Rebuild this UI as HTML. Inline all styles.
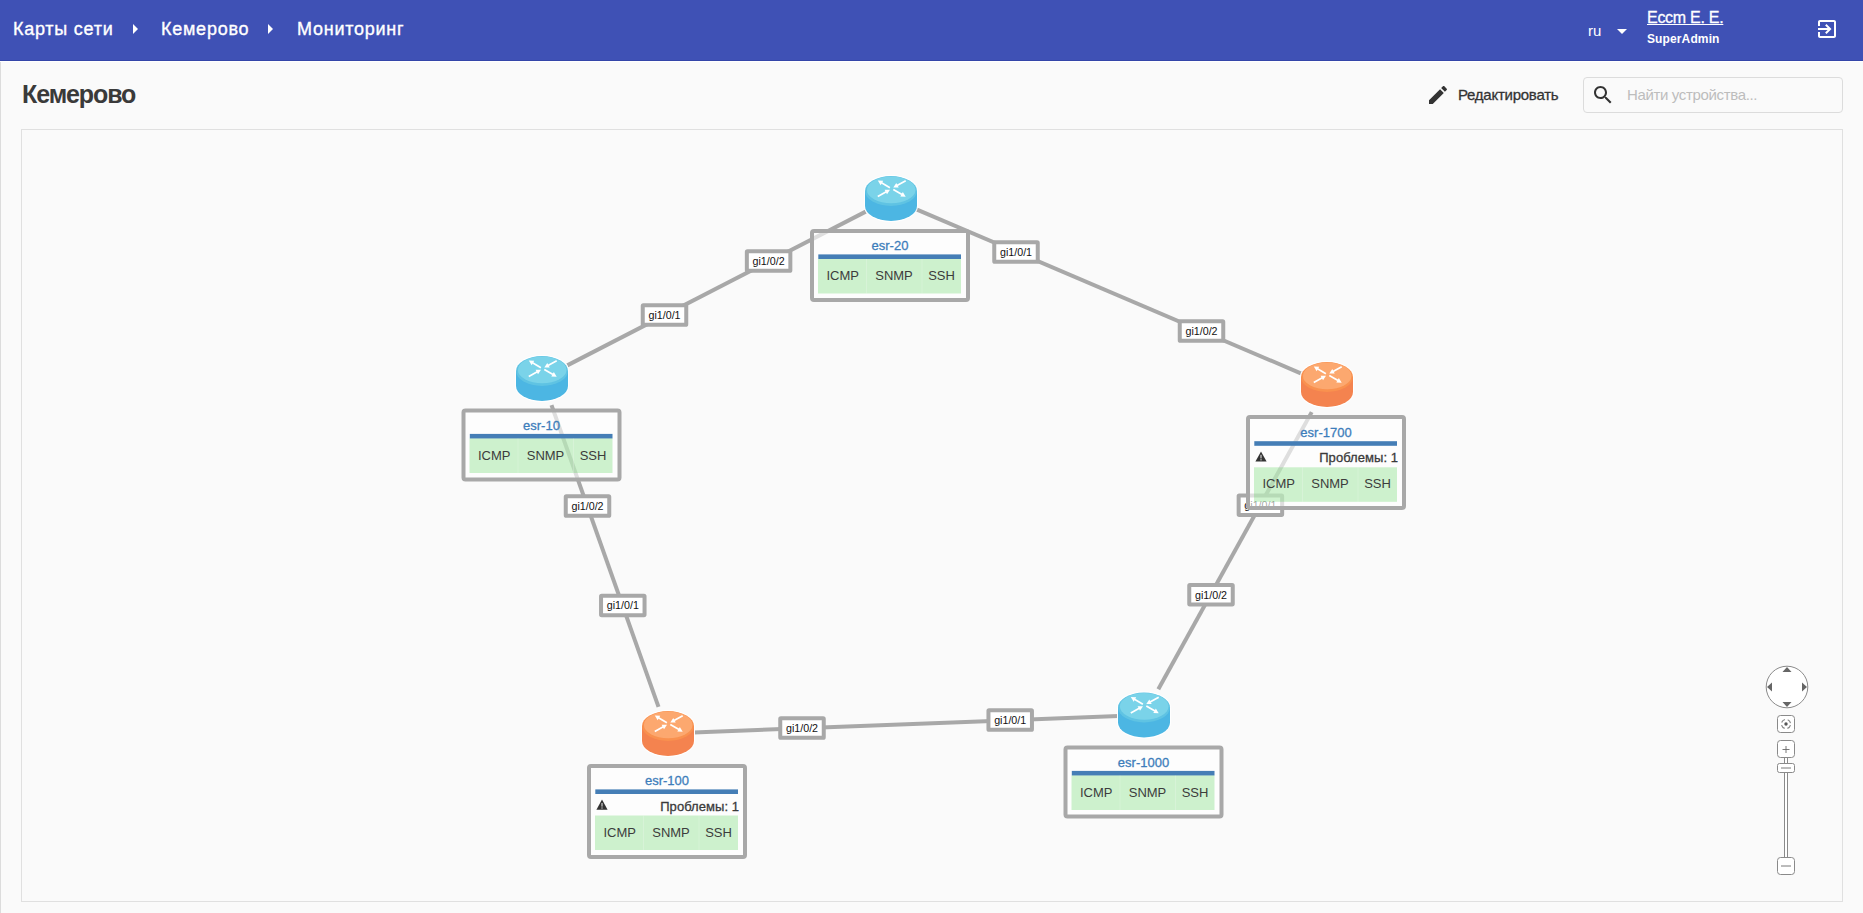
<!DOCTYPE html>
<html><head><meta charset="utf-8">
<style>
html,body{margin:0;padding:0;width:1863px;height:913px;overflow:hidden;background:#fafafa;font-family:"Liberation Sans",sans-serif;}
.abs{position:absolute;white-space:nowrap;}
#hdr{position:absolute;left:0;top:0;width:1863px;height:61px;background:#3f51b5;box-shadow:inset 0 -1px 0 #3446a9, 0 1px 0 #fff;}
#lborder{position:absolute;left:0;top:62px;width:1px;height:851px;background:#dcdcdc;}
.crumb{position:absolute;color:#fff;font-size:18px;line-height:20px;letter-spacing:0.75px;-webkit-text-stroke:0.35px #fff;}
.carr{position:absolute;width:0;height:0;border-top:5px solid transparent;border-bottom:5px solid transparent;border-left:5.5px solid #fff;}
#map{position:absolute;left:21px;top:129px;width:1820px;height:771px;border:1px solid #e0e0e0;}
#svg{position:absolute;left:0;top:0;}
</style></head>
<body>
<div id="hdr">
  <div class="crumb" style="left:13px;top:18.8px;">Карты сети</div>
  <div class="carr" style="left:132.5px;top:24px;"></div>
  <div class="crumb" style="left:161px;top:18.8px;">Кемерово</div>
  <div class="carr" style="left:267.5px;top:24px;"></div>
  <div class="crumb" style="left:297px;top:18.8px;">Мониторинг</div>

  <div class="abs" style="left:1588px;top:22px;color:#fff;font-size:15px;line-height:18px;">ru</div>
  <div class="abs" style="left:1617px;top:29px;width:0;height:0;border-left:5px solid transparent;border-right:5px solid transparent;border-top:5px solid #fff;"></div>
  <div class="abs" style="left:1647px;top:8.7px;color:#fff;font-size:16px;line-height:18px;text-decoration:underline;-webkit-text-stroke:0.3px #fff;letter-spacing:-0.28px;">Eccm E. E.</div>
  <div class="abs" style="left:1647px;top:31.5px;color:#fff;font-size:12px;font-weight:bold;line-height:14px;letter-spacing:0.12px;">SuperAdmin</div>
  <svg class="abs" style="left:1815px;top:17px;" width="24" height="24" viewBox="0 0 24 24"><path fill="#fff" d="M10.09 15.59L11.5 17l5-5-5-5-1.41 1.41L12.67 11H3v2h9.67l-2.58 2.59zM19 3H5c-1.11 0-2 .9-2 2v4h2V5h14v14H5v-4H3v4c0 1.1.89 2 2 2h14c1.1 0 2-.9 2-2V5c0-1.1-.9-2-2-2z"/></svg>
</div>
<div id="lborder"></div>

<div class="abs" style="left:22px;top:79.8px;color:#3a3a3a;font-size:25px;font-weight:bold;line-height:28px;letter-spacing:-1.1px;">Кемерово</div>

<svg class="abs" style="left:1426px;top:83px;" width="24" height="24" viewBox="0 0 24 24"><path fill="#333" d="M3 17.25V21h3.75L17.81 9.94l-3.75-3.75L3 17.25zM20.71 7.04c.39-.39.39-1.02 0-1.41l-2.34-2.34c-.39-.39-1.02-.39-1.41 0l-1.83 1.83 3.75 3.75 1.83-1.83z"/></svg>
<div class="abs" style="left:1458px;top:85.8px;color:#333;font-size:15px;line-height:18px;letter-spacing:-0.25px;-webkit-text-stroke:0.3px #333;">Редактировать</div>

<div class="abs" style="left:1583px;top:77px;width:258px;height:34px;border:1px solid #dcdcdc;border-radius:4px;"></div>
<svg class="abs" style="left:1591px;top:83px;" width="24" height="24" viewBox="0 0 24 24"><path fill="#333" d="M15.5 14h-.79l-.28-.27C15.41 12.59 16 11.11 16 9.5 16 5.91 13.09 3 9.5 3S3 5.91 3 9.5 5.91 16 9.5 16c1.61 0 3.09-.59 4.23-1.57l.27.28v.79l5 4.99L20.49 19l-4.99-5zm-6 0C7.01 14 5 11.99 5 9.5S7.01 5 9.5 5 14 7.01 14 9.5 11.99 14 9.5 14z"/></svg>
<div class="abs" style="left:1627px;top:85.7px;color:#bdbdbd;font-size:15px;line-height:18px;letter-spacing:-0.35px;">Найти устройства...</div>

<div id="map"></div>

<svg id="svg" width="1863" height="913" viewBox="0 0 1863 913" style="position:absolute;left:0;top:0;">
<!--MAP-->

<g stroke="#a8a8a8" stroke-width="4" fill="none">
<line x1="865.7" y1="211.6" x2="567.3" y2="365.4"/>
<line x1="916.4" y1="209.3" x2="1301.4" y2="373.6"/>
<line x1="551.5" y1="405.2" x2="658.5" y2="706.8"/>
<line x1="693.5" y1="732.5" x2="1118.5" y2="716.0"/>
<line x1="1158.3" y1="689.2" x2="1311.7" y2="412.1"/>
</g>
<g font-family="Liberation Sans" font-size="10.7" text-anchor="middle" fill="#111">
<rect x="746.85" y="251.25" width="43.5" height="19.5" rx="0.6" fill="#fff" stroke="#a8a8a8" stroke-width="4"/><text x="768.6" y="265.0">gi1/0/2</text>
<rect x="642.75" y="305.25" width="43.5" height="19.5" rx="0.6" fill="#fff" stroke="#a8a8a8" stroke-width="4"/><text x="664.5" y="319.0">gi1/0/1</text>
<rect x="994.25" y="242.25" width="43.5" height="19.5" rx="0.6" fill="#fff" stroke="#a8a8a8" stroke-width="4"/><text x="1016.0" y="256.0">gi1/0/1</text>
<rect x="1179.75" y="321.25" width="43.5" height="19.5" rx="0.6" fill="#fff" stroke="#a8a8a8" stroke-width="4"/><text x="1201.5" y="335.0">gi1/0/2</text>
<rect x="565.75" y="496.25" width="43.5" height="19.5" rx="0.6" fill="#fff" stroke="#a8a8a8" stroke-width="4"/><text x="587.5" y="510.0">gi1/0/2</text>
<rect x="601.05" y="595.65" width="43.5" height="19.5" rx="0.6" fill="#fff" stroke="#a8a8a8" stroke-width="4"/><text x="622.8" y="609.4">gi1/0/1</text>
<rect x="780.25" y="718.25" width="43.5" height="19.5" rx="0.6" fill="#fff" stroke="#a8a8a8" stroke-width="4"/><text x="802.0" y="732.0">gi1/0/2</text>
<rect x="988.45" y="710.25" width="43.5" height="19.5" rx="0.6" fill="#fff" stroke="#a8a8a8" stroke-width="4"/><text x="1010.2" y="724.0">gi1/0/1</text>
<rect x="1189.25" y="584.95" width="43.5" height="19.5" rx="0.6" fill="#fff" stroke="#a8a8a8" stroke-width="4"/><text x="1211.0" y="598.7">gi1/0/2</text>
<rect x="1238.65" y="495.45" width="43.5" height="19.5" rx="0.6" fill="#fff" stroke="#a8a8a8" stroke-width="4"/><text x="1260.4" y="509.2">gi1/0/1</text>
</g>
<g transform="translate(865,176)">
 <path d="M0 15 A26 15 0 0 1 52 15 L52 30 A26 15 0 0 1 0 30 Z" fill="none" stroke="#fff" stroke-width="2"/>
 <path d="M0 15 L0 30 A26 15 0 0 0 52 30 L52 15 Z" fill="#4cb6e3"/>
 <ellipse cx="26" cy="15" rx="26" ry="15" fill="#5fc3e3"/>
 <ellipse cx="26.2" cy="13.9" rx="24.3" ry="13.3" fill="#7ad3e9"/>
 
<line x1="24.9" y1="11.7" x2="16.51" y2="6.78" stroke="#fff" stroke-width="1.7"/><path d="M12.80 4.60 L18.21 4.87 L15.67 9.19 Z" fill="#fff"/>
<line x1="40.7" y1="4.7" x2="32.07" y2="9.43" stroke="#fff" stroke-width="1.7"/><path d="M28.30 11.50 L31.31 7.00 L33.71 11.38 Z" fill="#fff"/>
<line x1="12.8" y1="20.5" x2="21.24" y2="15.79" stroke="#fff" stroke-width="1.7"/><path d="M25.00 13.70 L22.02 18.22 L19.59 13.85 Z" fill="#fff"/>
<line x1="28.3" y1="13.4" x2="36.99" y2="18.52" stroke="#fff" stroke-width="1.7"/><path d="M40.70 20.70 L35.30 20.42 L37.83 16.11 Z" fill="#fff"/>

</g>
<g transform="translate(810,229)" font-family="Liberation Sans" font-size="13"><rect x="2" y="2" width="156" height="69" rx="2" fill="rgba(255,255,255,0.62)" stroke="#a8a8a8" stroke-width="4"/><g transform="translate(0,0)"><text x="80" y="21" text-anchor="middle" fill="#3d7dbb" stroke="#3d7dbb" stroke-width="0.3">esr-20</text><rect x="8.3" y="25.4" width="142.7" height="4.6" fill="#457eb6"/><rect x="8" y="30" width="143" height="34.5" fill="rgba(68,208,68,0.26)"/><rect x="56" y="30" width="1" height="34.5" fill="rgba(255,255,255,0.2)"/><rect x="111.5" y="30" width="1" height="34.5" fill="rgba(255,255,255,0.2)"/><text x="32.7" y="51" text-anchor="middle" fill="#3c3c3c">ICMP</text><text x="84" y="51" text-anchor="middle" fill="#3c3c3c">SNMP</text><text x="131.5" y="51" text-anchor="middle" fill="#3c3c3c">SSH</text></g></g>
<g transform="translate(516.0,356)">
 <path d="M0 15 A26 15 0 0 1 52 15 L52 30 A26 15 0 0 1 0 30 Z" fill="none" stroke="#fff" stroke-width="2"/>
 <path d="M0 15 L0 30 A26 15 0 0 0 52 30 L52 15 Z" fill="#4cb6e3"/>
 <ellipse cx="26" cy="15" rx="26" ry="15" fill="#5fc3e3"/>
 <ellipse cx="26.2" cy="13.9" rx="24.3" ry="13.3" fill="#7ad3e9"/>
 
<line x1="24.9" y1="11.7" x2="16.51" y2="6.78" stroke="#fff" stroke-width="1.7"/><path d="M12.80 4.60 L18.21 4.87 L15.67 9.19 Z" fill="#fff"/>
<line x1="40.7" y1="4.7" x2="32.07" y2="9.43" stroke="#fff" stroke-width="1.7"/><path d="M28.30 11.50 L31.31 7.00 L33.71 11.38 Z" fill="#fff"/>
<line x1="12.8" y1="20.5" x2="21.24" y2="15.79" stroke="#fff" stroke-width="1.7"/><path d="M25.00 13.70 L22.02 18.22 L19.59 13.85 Z" fill="#fff"/>
<line x1="28.3" y1="13.4" x2="36.99" y2="18.52" stroke="#fff" stroke-width="1.7"/><path d="M40.70 20.70 L35.30 20.42 L37.83 16.11 Z" fill="#fff"/>

</g>
<g transform="translate(461.5,408.5)" font-family="Liberation Sans" font-size="13"><rect x="2" y="2" width="156" height="69" rx="2" fill="rgba(255,255,255,0.62)" stroke="#a8a8a8" stroke-width="4"/><g transform="translate(0,0)"><text x="80" y="21" text-anchor="middle" fill="#3d7dbb" stroke="#3d7dbb" stroke-width="0.3">esr-10</text><rect x="8.3" y="25.4" width="142.7" height="4.6" fill="#457eb6"/><rect x="8" y="30" width="143" height="34.5" fill="rgba(68,208,68,0.26)"/><rect x="56" y="30" width="1" height="34.5" fill="rgba(255,255,255,0.2)"/><rect x="111.5" y="30" width="1" height="34.5" fill="rgba(255,255,255,0.2)"/><text x="32.7" y="51" text-anchor="middle" fill="#3c3c3c">ICMP</text><text x="84" y="51" text-anchor="middle" fill="#3c3c3c">SNMP</text><text x="131.5" y="51" text-anchor="middle" fill="#3c3c3c">SSH</text></g></g>
<g transform="translate(1301,362)">
 <path d="M0 15 A26 15 0 0 1 52 15 L52 30 A26 15 0 0 1 0 30 Z" fill="none" stroke="#fff" stroke-width="2"/>
 <path d="M0 15 L0 30 A26 15 0 0 0 52 30 L52 15 Z" fill="#f4834f"/>
 <ellipse cx="26" cy="15" rx="26" ry="15" fill="#f9914f"/>
 <ellipse cx="26.2" cy="13.9" rx="24.3" ry="13.3" fill="#fca86f"/>
 
<line x1="24.9" y1="11.7" x2="16.51" y2="6.78" stroke="#fff" stroke-width="1.7"/><path d="M12.80 4.60 L18.21 4.87 L15.67 9.19 Z" fill="#fff"/>
<line x1="40.7" y1="4.7" x2="32.07" y2="9.43" stroke="#fff" stroke-width="1.7"/><path d="M28.30 11.50 L31.31 7.00 L33.71 11.38 Z" fill="#fff"/>
<line x1="12.8" y1="20.5" x2="21.24" y2="15.79" stroke="#fff" stroke-width="1.7"/><path d="M25.00 13.70 L22.02 18.22 L19.59 13.85 Z" fill="#fff"/>
<line x1="28.3" y1="13.4" x2="36.99" y2="18.52" stroke="#fff" stroke-width="1.7"/><path d="M40.70 20.70 L35.30 20.42 L37.83 16.11 Z" fill="#fff"/>

</g>
<g transform="translate(1246,415)" font-family="Liberation Sans" font-size="13"><rect x="2" y="2" width="156" height="91" rx="2" fill="rgba(255,255,255,0.62)" stroke="#a8a8a8" stroke-width="4"/><g transform="translate(0,0.8)"><text x="80" y="21" text-anchor="middle" fill="#3d7dbb" stroke="#3d7dbb" stroke-width="0.3">esr-1700</text><rect x="8.3" y="25.4" width="142.7" height="4.6" fill="#457eb6"/><path d="M15 35.6 L20.6 45.8 L9.4 45.8 Z" fill="#333"/><rect x="14.5" y="39" width="1" height="3.6" fill="#eee"/><rect x="14.5" y="43.4" width="1" height="1.2" fill="#eee"/><text x="152" y="46.6" text-anchor="end" fill="#3a3a3a" stroke="#3a3a3a" stroke-width="0.3" letter-spacing="0.05">Проблемы: 1</text><rect x="8" y="51.5" width="143" height="34.5" fill="rgba(68,208,68,0.26)"/><rect x="56" y="51.5" width="1" height="34.5" fill="rgba(255,255,255,0.2)"/><rect x="111.5" y="51.5" width="1" height="34.5" fill="rgba(255,255,255,0.2)"/><text x="32.7" y="72.5" text-anchor="middle" fill="#3c3c3c">ICMP</text><text x="84" y="72.5" text-anchor="middle" fill="#3c3c3c">SNMP</text><text x="131.5" y="72.5" text-anchor="middle" fill="#3c3c3c">SSH</text></g></g>
<g transform="translate(642,711)">
 <path d="M0 15 A26 15 0 0 1 52 15 L52 30 A26 15 0 0 1 0 30 Z" fill="none" stroke="#fff" stroke-width="2"/>
 <path d="M0 15 L0 30 A26 15 0 0 0 52 30 L52 15 Z" fill="#f4834f"/>
 <ellipse cx="26" cy="15" rx="26" ry="15" fill="#f9914f"/>
 <ellipse cx="26.2" cy="13.9" rx="24.3" ry="13.3" fill="#fca86f"/>
 
<line x1="24.9" y1="11.7" x2="16.51" y2="6.78" stroke="#fff" stroke-width="1.7"/><path d="M12.80 4.60 L18.21 4.87 L15.67 9.19 Z" fill="#fff"/>
<line x1="40.7" y1="4.7" x2="32.07" y2="9.43" stroke="#fff" stroke-width="1.7"/><path d="M28.30 11.50 L31.31 7.00 L33.71 11.38 Z" fill="#fff"/>
<line x1="12.8" y1="20.5" x2="21.24" y2="15.79" stroke="#fff" stroke-width="1.7"/><path d="M25.00 13.70 L22.02 18.22 L19.59 13.85 Z" fill="#fff"/>
<line x1="28.3" y1="13.4" x2="36.99" y2="18.52" stroke="#fff" stroke-width="1.7"/><path d="M40.70 20.70 L35.30 20.42 L37.83 16.11 Z" fill="#fff"/>

</g>
<g transform="translate(587,764)" font-family="Liberation Sans" font-size="13"><rect x="2" y="2" width="156" height="91" rx="2" fill="rgba(255,255,255,0.62)" stroke="#a8a8a8" stroke-width="4"/><g transform="translate(0,0)"><text x="80" y="21" text-anchor="middle" fill="#3d7dbb" stroke="#3d7dbb" stroke-width="0.3">esr-100</text><rect x="8.3" y="25.4" width="142.7" height="4.6" fill="#457eb6"/><path d="M15 35.6 L20.6 45.8 L9.4 45.8 Z" fill="#333"/><rect x="14.5" y="39" width="1" height="3.6" fill="#eee"/><rect x="14.5" y="43.4" width="1" height="1.2" fill="#eee"/><text x="152" y="46.6" text-anchor="end" fill="#3a3a3a" stroke="#3a3a3a" stroke-width="0.3" letter-spacing="0.05">Проблемы: 1</text><rect x="8" y="51.5" width="143" height="34.5" fill="rgba(68,208,68,0.26)"/><rect x="56" y="51.5" width="1" height="34.5" fill="rgba(255,255,255,0.2)"/><rect x="111.5" y="51.5" width="1" height="34.5" fill="rgba(255,255,255,0.2)"/><text x="32.7" y="72.5" text-anchor="middle" fill="#3c3c3c">ICMP</text><text x="84" y="72.5" text-anchor="middle" fill="#3c3c3c">SNMP</text><text x="131.5" y="72.5" text-anchor="middle" fill="#3c3c3c">SSH</text></g></g>
<g transform="translate(1118.0,692.5)">
 <path d="M0 15 A26 15 0 0 1 52 15 L52 30 A26 15 0 0 1 0 30 Z" fill="none" stroke="#fff" stroke-width="2"/>
 <path d="M0 15 L0 30 A26 15 0 0 0 52 30 L52 15 Z" fill="#4cb6e3"/>
 <ellipse cx="26" cy="15" rx="26" ry="15" fill="#5fc3e3"/>
 <ellipse cx="26.2" cy="13.9" rx="24.3" ry="13.3" fill="#7ad3e9"/>
 
<line x1="24.9" y1="11.7" x2="16.51" y2="6.78" stroke="#fff" stroke-width="1.7"/><path d="M12.80 4.60 L18.21 4.87 L15.67 9.19 Z" fill="#fff"/>
<line x1="40.7" y1="4.7" x2="32.07" y2="9.43" stroke="#fff" stroke-width="1.7"/><path d="M28.30 11.50 L31.31 7.00 L33.71 11.38 Z" fill="#fff"/>
<line x1="12.8" y1="20.5" x2="21.24" y2="15.79" stroke="#fff" stroke-width="1.7"/><path d="M25.00 13.70 L22.02 18.22 L19.59 13.85 Z" fill="#fff"/>
<line x1="28.3" y1="13.4" x2="36.99" y2="18.52" stroke="#fff" stroke-width="1.7"/><path d="M40.70 20.70 L35.30 20.42 L37.83 16.11 Z" fill="#fff"/>

</g>
<g transform="translate(1063.5,745.5)" font-family="Liberation Sans" font-size="13"><rect x="2" y="2" width="156" height="69" rx="2" fill="rgba(255,255,255,0.62)" stroke="#a8a8a8" stroke-width="4"/><g transform="translate(0,0)"><text x="80" y="21" text-anchor="middle" fill="#3d7dbb" stroke="#3d7dbb" stroke-width="0.3">esr-1000</text><rect x="8.3" y="25.4" width="142.7" height="4.6" fill="#457eb6"/><rect x="8" y="30" width="143" height="34.5" fill="rgba(68,208,68,0.26)"/><rect x="56" y="30" width="1" height="34.5" fill="rgba(255,255,255,0.2)"/><rect x="111.5" y="30" width="1" height="34.5" fill="rgba(255,255,255,0.2)"/><text x="32.7" y="51" text-anchor="middle" fill="#3c3c3c">ICMP</text><text x="84" y="51" text-anchor="middle" fill="#3c3c3c">SNMP</text><text x="131.5" y="51" text-anchor="middle" fill="#3c3c3c">SSH</text></g></g>
<g stroke="#8a8a8a" fill="#fff" stroke-width="1">
 <circle cx="1787" cy="687" r="20.8"/>
</g>
<g fill="#666">
 <path d="M1782.5 672 L1791.5 672 L1787 667 Z"/>
 <path d="M1782.5 702 L1791.5 702 L1787 707 Z"/>
 <path d="M1772 682.5 L1772 691.5 L1767 687 Z"/>
 <path d="M1802 682.5 L1802 691.5 L1807 687 Z"/>
</g>
<g stroke="#8a8a8a" fill="#fff" stroke-width="1">
 <rect x="1777.5" y="715.5" width="17" height="17" rx="3"/>
 <rect x="1784.5" y="757.5" width="3" height="100"/>
 <rect x="1777.5" y="740.5" width="17" height="17" rx="3"/>
 <rect x="1777.5" y="763.5" width="17" height="9" rx="2"/>
 <rect x="1777.5" y="857.5" width="17" height="17" rx="3"/>
</g>
<g stroke="#6a6a6a" stroke-width="0.9" fill="none">
 <path d="M1786 746 V753 M1782.5 749.5 H1789.5"/>
 <path d="M1781 768 H1791"/>
 <path d="M1781 866 H1791"/>
</g>
<circle cx="1786" cy="724" r="1.7" fill="#555"/>
<circle cx="1786" cy="724" r="4.6" fill="none" stroke="#8a8a8a" stroke-width="1.2" stroke-dasharray="4.4 2.83" stroke-dashoffset="-1.2"/>

<!--/MAP-->
</svg>
</body></html>
